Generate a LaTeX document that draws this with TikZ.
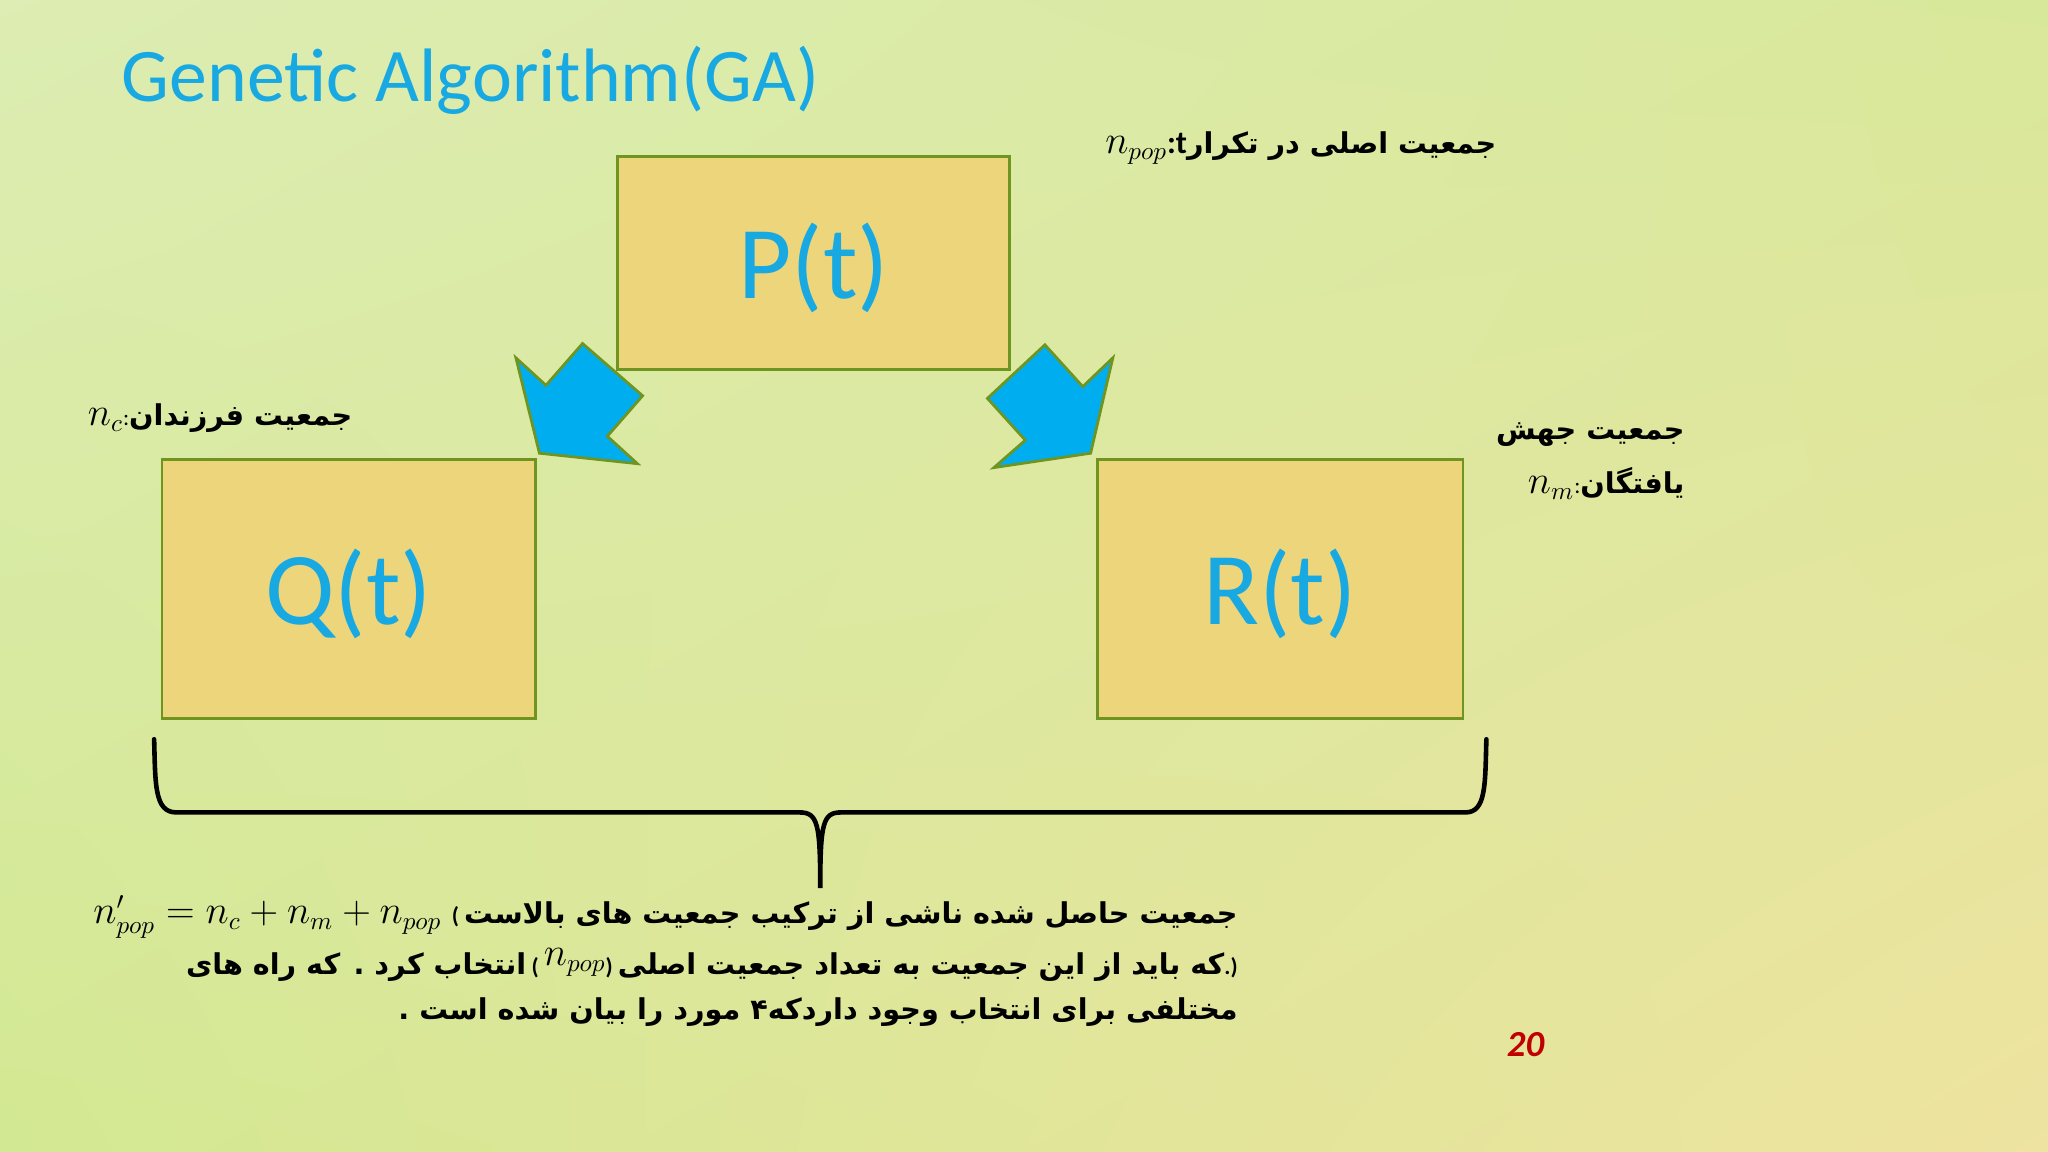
\documentclass[tikz,border=0pt]{standalone}
\usepackage{fontspec}
\usetikzlibrary{shadings}
\setmainfont{Carlito}
\newfontfamily\arabicfont[Script=Arabic]{DejaVu Sans}
\TeXXeTstate=1
\definecolor{bgA}{HTML}{DDEDB3}
\definecolor{bgB}{HTML}{D8E89A}
\definecolor{bgC}{HTML}{D3E892}
\definecolor{bgD}{HTML}{EEE3A0}
\definecolor{boxfill}{HTML}{EDD57C}
\definecolor{boxline}{HTML}{6F9420}
\definecolor{titleblue}{HTML}{18A9E3}
\definecolor{arrowblue}{HTML}{00AEEF}
\definecolor{pagered}{HTML}{C00000}
\newcommand{\fa}[1]{{\arabicfont\bfseries\fontsize{12.5}{15}\selectfont\beginR #1\endR}}
\newcommand{\mth}[1]{{\fontsize{16}{18}\selectfont$#1$}}
\tikzset{
  popbox/.style={draw=boxline,line width=1.2pt,fill=boxfill},
  boxlabel/.style={text=titleblue,font=\fontsize{45}{54}\selectfont},
  bigarrow/.style={draw=boxline,line width=1.2pt,fill=arrowblue},
  txt/.style={anchor=east,inner sep=0pt}
}
\begin{document}
\begin{tikzpicture}[x=0.02cm,y=-0.02cm]
\shade[upper left=bgA,upper right=bgB,lower left=bgC,lower right=bgD] (0,0) rectangle (1568,882);
\useasboundingbox (0,0) rectangle (1568,882);
\node[anchor=base west,text=titleblue,font=\fontsize{33}{40}\selectfont,inner sep=0pt] (title) at (93,78) {Genetic Algorithm(GA)};
% boxes
\draw[popbox] (473,120) rectangle (773,283);
\node[boxlabel] (P) at (623,205) {P(t)};
\draw[popbox] (124,352) rectangle (410,550);
\node[boxlabel] (Q) at (267,455) {Q(t)};
\draw[popbox] (840,352) rectangle (1120,550);
\node[boxlabel] (R) at (980,455) {R(t)};
% arrows
\draw[bigarrow,line join=miter] (395,274) -- (418,295) -- (446,263) -- (492,303) -- (465,334) -- (488,355) -- (413,347) -- cycle;
\draw[bigarrow,line join=miter] (852,274) -- (829,296) -- (800,264) -- (756,305) -- (785,337) -- (761,358) -- (835,347) -- cycle;
% labels
\node[txt] (lt) at (1146,113) {\mth{n_{pop}}{\bfseries\fontsize{14}{16}\selectfont :t}\fa{جمعیت اصلی در تکرار}};
\node[txt] (lq) at (270,320) {\mth{n_c}:\fa{جمعیت فرزندان}};
\node[txt] (lr1) at (1290,333) {\fa{جمعیت جهش}};
\node[txt] (lr2) at (1290,370) {\mth{n_m}:\fa{یافتگان}};
% brace
\draw[line width=2pt,line cap=round] (118,566) .. controls (119,600) and (118,622) .. (135,622) -- (612,622) .. controls (626,622) and (628,630) .. (628,680) .. controls (628,630) and (630,622) .. (644,622) -- (1122,622) .. controls (1138,622) and (1137,600) .. (1138,566);
% bottom text
\node[txt] (b1) at (948,702) {\mth{n'_{pop}=n_c+n_m+n_{pop}}\ \ {\bfseries (}\ \fa{جمعیت حاصل شده ناشی از ترکیب جمعیت های بالاست}};
\node[txt] (b2) at (948,739) {\fa{انتخاب کرد . که راه های}\ {\bfseries (}\ \raisebox{4pt}{\mth{n_{pop}}}{\bfseries)}\ \fa{که باید از این جمعیت به تعداد جمعیت اصلی}{\bfseries .)}};
\node[txt] (b3) at (948,775) {\fa{مختلفی برای انتخاب وجود داردکه۴ مورد را  بیان شده است .}};
\node[text=pagered,font=\bfseries\itshape\fontsize{16}{18}\selectfont,inner sep=0pt] (pg) at (1168,800) {20};
\end{tikzpicture}
\end{document}
